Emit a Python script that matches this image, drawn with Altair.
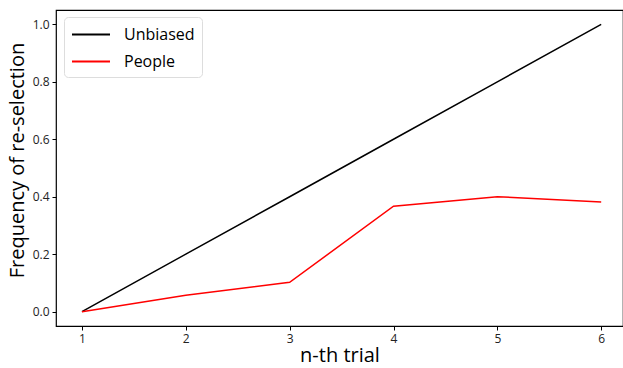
import altair as alt
import pandas as pd

trials = [1, 2, 3, 4, 5, 6]
unbiased = [0.0, 0.2, 0.4, 0.6, 0.8, 1.0]
people = [0.0, 0.057, 0.102, 0.367, 0.400, 0.382]
series_names = ["Unbiased", "People"]
series_colors = ["black", "red"]

rows = []
for t, u in zip(trials, unbiased):
    rows.append({"trial": t, "value": u, "series": "Unbiased"})
for t, p in zip(trials, people):
    rows.append({"trial": t, "value": p, "series": "People"})
df = pd.DataFrame(rows)

FONT = "Open Sans"

chart = alt.Chart(df).mark_line(strokeWidth=1.5, clip=True).encode(
    x=alt.X("trial:Q",
            scale=alt.Scale(domain=[0.75, 6.21], nice=False, zero=False),
            axis=alt.Axis(values=trials, format="d", title="n-th trial",
                          titleFontSize=20, titleFont=FONT, titleFontWeight="normal",
                          titlePadding=1)),
    y=alt.Y("value:Q",
            scale=alt.Scale(domain=[-0.05, 1.05], nice=False, zero=False),
            axis=alt.Axis(values=[0.0, 0.2, 0.4, 0.6, 0.8, 1.0], format=".1f",
                          title="Frequency of re-selection",
                          titleFontSize=20, titleFont=FONT, titleFontWeight="normal",
                          titleX=-33, titleY=150, titleAngle=270,
                          titleAlign="center", titleBaseline="alphabetic")),
    color=alt.Color("series:N",
                    scale=alt.Scale(domain=series_names, range=series_colors),
                    sort=series_names,
                    legend=alt.Legend(title=None, orient="none", legendX=8, legendY=7,
                                      symbolType="M-1,0L3,0", symbolSize=361,
                                      symbolStrokeWidth=2, labelFontSize=16,
                                      labelFont=FONT, rowPadding=8,
                                      padding=7, strokeColor="#dddddd",
                                      cornerRadius=4, fillColor="white",
                                      labelOffset=32)),
).properties(
    width=567, height=316,
    autosize=alt.AutoSizeParams(type="none"),
    padding={"left": 56, "top": 10, "right": 0, "bottom": 42},
).configure_view(
    stroke="black", strokeWidth=1.2
).configure_axis(
    grid=False, domain=False, tickColor="black", tickSize=4,
    labelFont=FONT, labelFontSize=12, labelColor="#222", titleColor="black",
    labelPadding=3
)

chart.save("out.html", embed_options={"renderer": "svg", "actions": False})
